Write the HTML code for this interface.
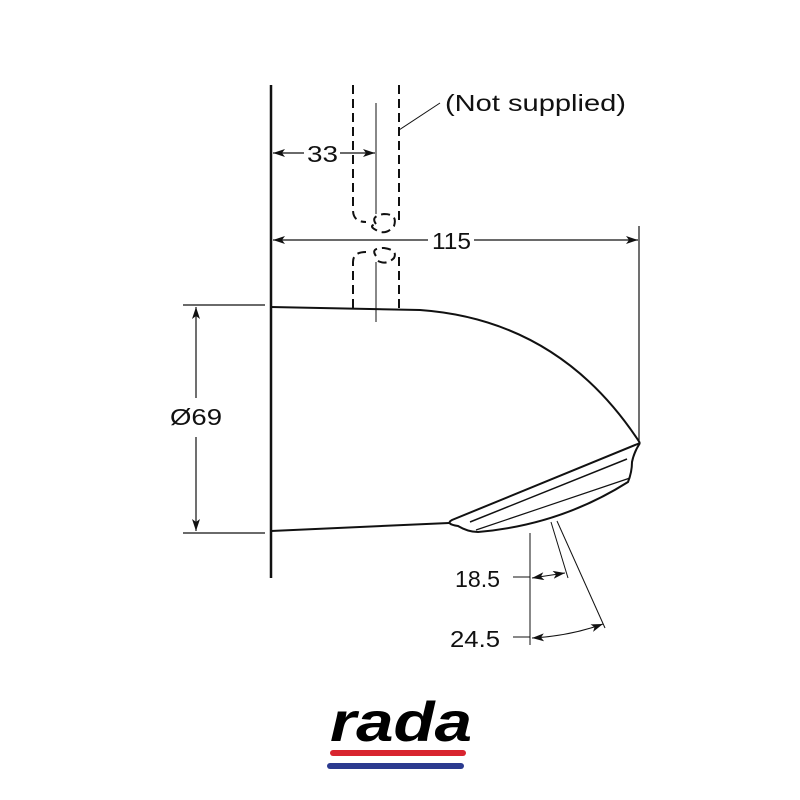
<!DOCTYPE html>
<html><head><style>body{margin:0;background:#fff}svg{display:block}</style></head><body>
<svg width="800" height="800" viewBox="0 0 800 800" xmlns="http://www.w3.org/2000/svg" font-family="Liberation Sans, sans-serif">
<defs>
<marker id="a" viewBox="0 0 12 8" refX="12" refY="4" markerWidth="12" markerHeight="8" orient="auto-start-reverse" markerUnits="userSpaceOnUse"><path d="M0,0 L12,4 L0,8 L3,4 z" fill="#111"/></marker>
</defs>
<g stroke="#111" fill="none">
<line x1="271" y1="85" x2="271" y2="578" stroke-width="2.5"/>
<g stroke-width="2" stroke-dasharray="9,5">
<path d="M353,85 V210 Q353,222 366,222"/>
<path d="M399,85 V224"/>
<path d="M376,224 Q370,216 384,214 Q398,214 394,226 Q386,236 376,230 Q368,226 376,224"/>
<path d="M353,308 V262 Q353,252 366,252"/>
<path d="M399,308 V254"/>
<path d="M376,256 Q370,248 384,248 Q398,250 394,258 Q386,266 376,260"/>
</g>
<line x1="376" y1="103" x2="376" y2="214" stroke-width="1"/>
<line x1="376" y1="262" x2="376" y2="322" stroke-width="1"/>
<line x1="399" y1="130" x2="440" y2="103" stroke-width="1"/>
<line x1="273" y1="153" x2="304" y2="153" stroke-width="1.2" marker-start="url(#a)"/>
<line x1="340" y1="153" x2="375" y2="153" stroke-width="1.2" marker-end="url(#a)"/>
<line x1="273" y1="240" x2="428" y2="240" stroke-width="1.2" marker-start="url(#a)"/>
<line x1="474" y1="240" x2="638" y2="240" stroke-width="1.2" marker-end="url(#a)"/>
<line x1="639" y1="226" x2="639" y2="445" stroke-width="1.2"/>
<line x1="183" y1="305" x2="265" y2="305" stroke-width="1.2"/>
<line x1="183" y1="533" x2="265" y2="533" stroke-width="1.2"/>
<line x1="196" y1="307" x2="196" y2="398" stroke-width="1.2" marker-start="url(#a)"/>
<line x1="196" y1="437" x2="196" y2="531" stroke-width="1.2" marker-end="url(#a)"/>
<path d="M271,307 L420,310 Q560,320 640,443" stroke-width="2"/>
<path d="M271,531 L449,523" stroke-width="2"/>
<path d="M640,443 L452,520 Q445,524 458,526 Q468,532 478,532 Q560,525 628,482 Q632,472 632,462 Q634,452 640,443" stroke-width="2"/>
<path d="M627,459 L470,522" stroke-width="1.5"/>
<path d="M630,478 L476,530" stroke-width="1.2"/>
<line x1="530" y1="533" x2="530" y2="645" stroke-width="1"/>
<line x1="551" y1="522" x2="568" y2="578" stroke-width="1"/>
<line x1="557" y1="521" x2="605" y2="628" stroke-width="1"/>
<line x1="513" y1="577" x2="530" y2="577" stroke-width="1"/>
<line x1="513" y1="637" x2="530" y2="637" stroke-width="1"/>
<line x1="532" y1="578" x2="565" y2="573" stroke-width="1" marker-start="url(#a)" marker-end="url(#a)"/>
<path d="M532,638 Q570,636 603,624" stroke-width="1" marker-start="url(#a)" marker-end="url(#a)"/>
</g>
<g fill="#111" font-size="23">
<text x="445" y="111" textLength="181" lengthAdjust="spacingAndGlyphs">(Not supplied)</text>
<text x="307" y="162" textLength="31" lengthAdjust="spacingAndGlyphs">33</text>
<text x="432" y="249" textLength="39" lengthAdjust="spacingAndGlyphs">115</text>
<text x="170" y="425" textLength="52" lengthAdjust="spacingAndGlyphs">Ø69</text>
<text x="455" y="587" textLength="45" lengthAdjust="spacingAndGlyphs">18.5</text>
<text x="450" y="647" textLength="50" lengthAdjust="spacingAndGlyphs">24.5</text>
</g>
<text x="330" y="741" font-size="56" font-weight="bold" font-style="italic" fill="#000" textLength="142" lengthAdjust="spacingAndGlyphs">rada</text>
<rect x="330" y="750" width="136" height="6" rx="3" fill="#d8242f"/>
<rect x="327" y="763" width="137" height="6" rx="3" fill="#2b3a8f"/>
</svg>
</body></html>
